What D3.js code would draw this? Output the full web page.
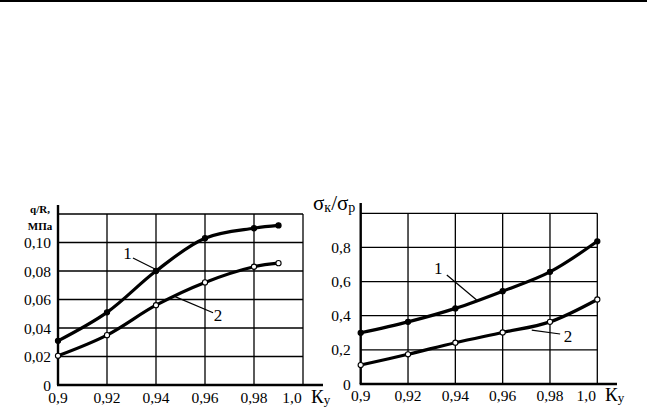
<!DOCTYPE html>
<html><head><meta charset="utf-8">
<script src="https://cdn.jsdelivr.net/npm/d3@7"></script>
<style>body{margin:0;background:#fff}svg{display:block}</style>
</head><body>
<svg id="c" width="647" height="411" font-family="'Liberation Serif', 'Times New Roman', 'DejaVu Serif', serif"></svg>
<script>
// Left chart data
const kyLeft = [0.9, 0.92, 0.94, 0.96, 0.98, 0.99];
const qR1 = [0.031, 0.051, 0.080, 0.103, 0.110, 0.112];
const qR2 = [0.0205, 0.035, 0.056, 0.072, 0.083, 0.0855];
const xTicksLeft = [0.9, 0.92, 0.94, 0.96, 0.98, 1.0];
const xTickLabelsLeft = ["0,9", "0,92", "0,94", "0,96", "0,98", "1,0"];
const yTicksLeft = [0, 0.02, 0.04, 0.06, 0.08, 0.10];
const yTickLabelsLeft = ["0", "0,02", "0,04", "0,06", "0,08", "0,10"];
// Right chart data
const kyRight = [0.9, 0.92, 0.94, 0.96, 0.98, 1.0];
const sig1 = [0.300, 0.364, 0.443, 0.544, 0.657, 0.836];
const sig2 = [0.111, 0.174, 0.242, 0.302, 0.364, 0.495];
const xTicksRight = [0.9, 0.92, 0.94, 0.96, 0.98, 1.0];
const xTickLabelsRight = ["0,9", "0,92", "0,94", "0,96", "0,98", "1,0"];
const yTicksRight = [0, 0.2, 0.4, 0.6, 0.8];
const yTickLabelsRight = ["0", "0,2", "0,4", "0,6", "0,8"];

const FONT = "Liberation Serif, Times New Roman, DejaVu Serif, serif";
const svg = d3.select("#c");
// top rule
svg.append("line").attr("x1",0).attr("x2",647).attr("y1",1).attr("y2",1).attr("stroke","#000").attr("stroke-width",2);

function txt(g){ return g.append("text").attr("font-family",FONT).attr("fill","#000"); }

function panel(o){
  const g = svg.append("g");
  const x = d3.scaleLinear().domain([0.9,1.0]).range([o.x0,o.x1]);
  const y = d3.scaleLinear().domain([0,o.ymax]).range([o.y0,o.y1]);
  o.xTicks.slice(1).forEach(t=>{
    g.append("line").attr("x1",x(t)).attr("x2",x(t)).attr("y1",y(0)).attr("y2",y(o.ymax))
      .attr("stroke","#000").attr("stroke-width",1.3);
  });
  o.yTicks.slice(1).concat([o.ymax]).forEach(t=>{
    g.append("line").attr("x1",x(0.9)).attr("x2",x(1.0)).attr("y1",y(t)).attr("y2",y(t))
      .attr("stroke","#000").attr("stroke-width",1.3);
  });
  g.append("line").attr("x1",x(0.9)).attr("x2",x(0.9)).attr("y1",y(0)).attr("y2",o.axisTop)
    .attr("stroke","#000").attr("stroke-width",2.4);
  g.append("line").attr("x1",x(0.9)-1).attr("x2",o.axisRight).attr("y1",y(0)).attr("y2",y(0))
    .attr("stroke","#000").attr("stroke-width",2.4);
  o.yTicks.forEach((t,i)=>{
    txt(g).attr("x",x(0.9)-o.yLabOff).attr("y",y(t)).attr("dy","0.36em")
      .attr("text-anchor","end").attr("font-size",15.5).text(o.yLabels[i]);
  });
  o.xTicks.forEach((t,i)=>{
    const dx = i===o.xTicks.length-1 ? -11 : 0;
    txt(g).attr("x",x(t)+dx).attr("y",o.xLabY)
      .attr("text-anchor","middle").attr("font-size",15.5).text(o.xLabels[i]);
  });
  const k = txt(g).attr("x",o.kyX).attr("y",o.xLabY).attr("font-size",19);
  k.append("tspan").text("К");
  k.append("tspan").attr("font-size",13).attr("dy",1).text("у");
  const line = d3.line().x(d=>x(d[0])).y(d=>y(d[1])).curve(d3.curveCatmullRom.alpha(0.5));
  o.series.forEach((s,si)=>{
    const pts = o.xs.map((v,i)=>[v,s[i]]);
    g.append("path").attr("d",line(pts)).attr("fill","none").attr("stroke","#000").attr("stroke-width",3.2);
    g.selectAll(null).data(pts).enter().append("circle")
      .attr("cx",d=>x(d[0])).attr("cy",d=>y(d[1])).attr("r",si===0?2.6:2.6)
      .attr("fill",si===0?"#000":"#fff").attr("stroke","#000").attr("stroke-width",1.1);
  });
  o.leaders.forEach(l=>{
    g.append("line").attr("x1",x(l.from[0])).attr("y1",y(l.from[1])).attr("x2",x(l.to[0])).attr("y2",y(l.to[1]))
      .attr("stroke","#000").attr("stroke-width",1.2);
    txt(g).attr("x",x(l.lab[0])).attr("y",y(l.lab[1])).attr("dy","0.36em")
      .attr("text-anchor","middle").attr("font-size",17).text(l.text);
  });
  return {x,y,g};
}

const L = panel({x0:58,x1:303,y0:385,y1:214,ymax:0.12,axisTop:205,axisRight:323,
  xTicks:xTicksLeft,xLabels:xTickLabelsLeft,yTicks:yTicksLeft,yLabels:yTickLabelsLeft,
  yLabOff:7,xLabY:403,kyX:311,xs:kyLeft,series:[qR1,qR2],
  leaders:[{text:"1",lab:[0.9284,0.0926],from:[0.9306,0.0891],to:[0.9404,0.0807]},
           {text:"2",lab:[0.9653,0.0491],from:[0.9633,0.0507],to:[0.9478,0.062]}]});
txt(L.g).attr("x",40).attr("y",213).attr("text-anchor","middle").attr("font-size",11).attr("font-weight","bold").text("q/R,");
txt(L.g).attr("x",40).attr("y",230).attr("text-anchor","middle").attr("font-size",11).attr("font-weight","bold").text("МПа");

const R = panel({x0:360.7,x1:597.3,y0:384,y1:213.3,ymax:1.0,axisTop:203,axisRight:617,
  xTicks:xTicksRight,xLabels:xTickLabelsRight,yTicks:yTicksRight,yLabels:yTickLabelsRight,
  yLabOff:10,xLabY:401,kyX:605,xs:kyRight,series:[sig1,sig2],
  leaders:[{text:"1",lab:[0.9328,0.678],from:[0.9364,0.639],to:[0.949,0.492]},
           {text:"2",lab:[0.9876,0.281],from:[0.9843,0.293],to:[0.9723,0.316]}]});
const st = txt(R.g).attr("x",313).attr("y",210).attr("font-size",21);
st.append("tspan").text("σ");
st.append("tspan").attr("font-size",14).attr("dy",2).text("к");
st.append("tspan").attr("dy",-2).text("/σ");
st.append("tspan").attr("font-size",14).attr("dy",2).text("р");
</script>
</body></html>
